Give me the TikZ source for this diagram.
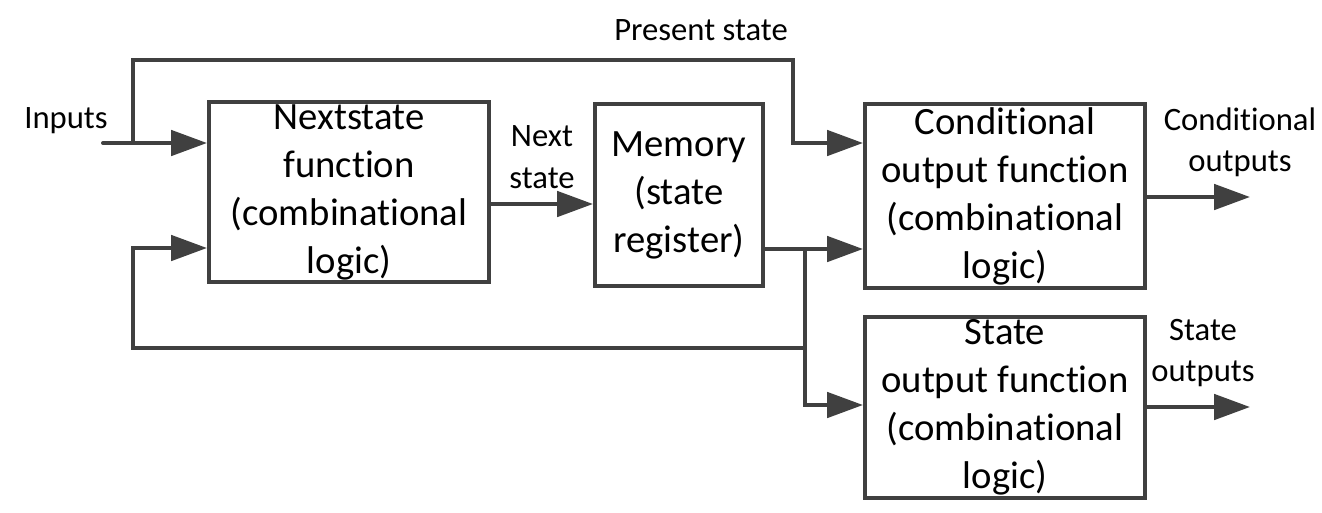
\documentclass[tikz,border=0pt]{standalone}
\usepackage{fontspec}
\setmainfont{Carlito}[Ligatures={NoCommon}]
\usetikzlibrary{arrows.meta}
\definecolor{ln}{HTML}{404040}
\begin{document}
\begin{tikzpicture}[x=0.75pt,y=-0.75pt,
  blk/.style={draw=ln, line width=3pt, rectangle, align=center, inner sep=0pt,
    font=\fontsize{29}{36}\selectfont},
  lbl/.style={align=center, inner sep=0pt, font=\fontsize{24.5}{31}\selectfont},
  conn/.style={draw=ln, line width=3pt, line join=miter},
  arr/.style={conn, -{Triangle[length=27pt,width=19pt]}}]
\useasboundingbox (0,0) rectangle (1322,512);

\node[blk, minimum width=210pt, minimum height=135pt] (ns) at (349,192) {Nextstate\\function\\(combinational\\logic)};
\node[blk, minimum width=126pt, minimum height=136.5pt] (mem) at (679,195) {Memory\\(state\\register)};
\node[blk, minimum width=210pt, minimum height=138pt] (cof) at (1005,196) {Conditional\\output function\\(combinational\\logic)};
\node[blk, minimum width=210pt, minimum height=135.75pt] (sof) at (1005,407) {State\\output function\\(combinational\\logic)};

\node[lbl] (linputs) at (66,121) {Inputs};
\node[lbl] (lps) at (701,30) {Present state};
\node[lbl] (lns) at (542,157) {Next\\state};
\node[lbl] (lco) at (1240,142) {Conditional\\outputs};
\node[lbl] (lso) at (1203,353) {State\\outputs};

\coordinate (in) at (103,143);
\coordinate (ib) at (133,143);
\coordinate (ps1) at (133,60);
\coordinate (ps2) at (793,60);
\coordinate (ps3) at (793,143);
\coordinate (nsy) at (0,204);
\coordinate (mo) at (0,249);
\coordinate (br) at (805,249);
\coordinate (sb) at (805,405);
\coordinate (fb1) at (805,348);
\coordinate (fb2) at (133,348);
\coordinate (fb3) at (133,248);
\coordinate (co) at (1250,197);
\coordinate (so) at (1250,407);

\draw[arr, line cap=round] (in) -- (in -| ns.west);
\draw[arr] (ib) -- (ps1) -- (ps2) -- (ps3) -- (ps3 -| cof.west);
\draw[arr] (ns.east |- nsy) -- (mem.west |- nsy);
\draw[arr] (mem.east |- mo) -- (br) -- (cof.west |- br);
\draw[arr] (br) -- (sb) -- (sof.west |- sb);
\draw[arr] (fb1) -- (fb2) -- (fb3) -- (fb3 -| ns.west);
\draw[arr] (cof.east |- co) -- (co);
\draw[arr] (sof.east |- so) -- (so);
\end{tikzpicture}
\end{document}
